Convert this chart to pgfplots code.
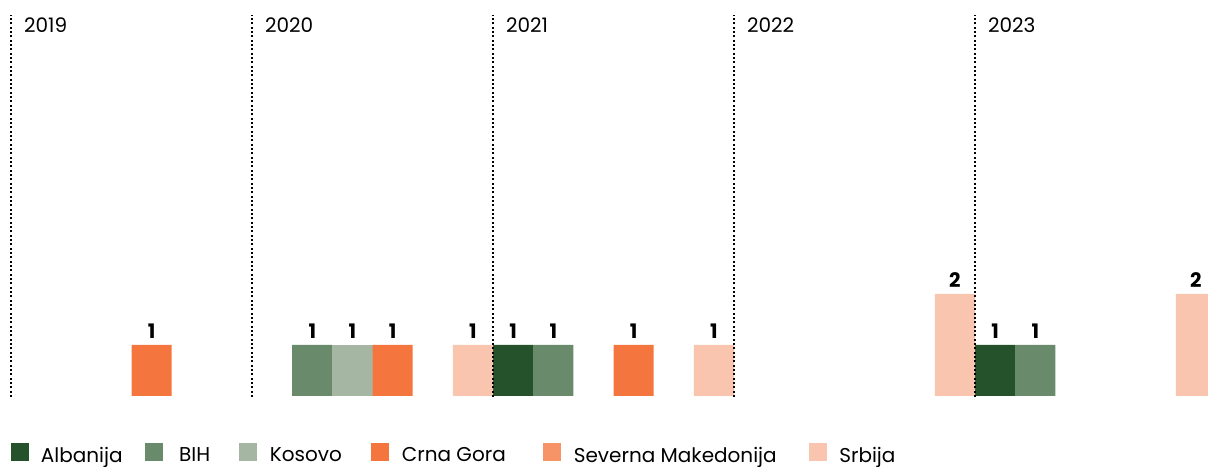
\documentclass[border=0pt]{standalone}
\usepackage{pgfplots}
\pgfplotsset{compat=1.18}
\usepackage{fontspec}
\setmainfont{Poppins}

\definecolor{albanija}{HTML}{25512B}
\definecolor{bih}{HTML}{6A8A6C}
\definecolor{kosovo}{HTML}{A5B7A3}
\definecolor{crnagora}{HTML}{F4763E}
\definecolor{sevmak}{HTML}{F79467}
\definecolor{srbija}{HTML}{F9C5AE}

\begin{document}
\begin{tikzpicture}
\begin{axis}[
    scale only axis,
    width=906pt, height=349.5pt,
    xmin=-0.274, xmax=29.8,
    ymin=-1.373, ymax=7.765,
    hide axis,
    ybar, bar width=1,
    every axis plot/.append style={bar shift=0pt, draw=none},
    /pgf/number format/assume math mode=true,
    nodes near coords,
    every node near coord/.append style={font=\bfseries\fontsize{15}{18}\selectfont,
        text=black, inner sep=0pt, anchor=south, yshift=4.5pt},
    legend columns=-1,
    legend image code/.code={\fill[#1] (0pt,-4.5pt) rectangle (13.5pt,9pt);},
    legend style={draw=none, fill=none, at={(rel axis cs:0.0091,0.0233)}, anchor=west,
        inner sep=0pt, font=\fontsize{15}{18}\selectfont,
        /tikz/column 1/.append style={column sep=6.75pt},
        /tikz/column 2/.append style={column sep=14.5pt},
        /tikz/column 3/.append style={column sep=10.5pt},
        /tikz/column 4/.append style={column sep=19.75pt},
        /tikz/column 5/.append style={column sep=7.5pt},
        /tikz/column 6/.append style={column sep=20pt},
        /tikz/column 7/.append style={column sep=7.5pt},
        /tikz/column 8/.append style={column sep=26pt},
        /tikz/column 9/.append style={column sep=7.5pt},
        /tikz/column 10/.append style={column sep=22pt},
        /tikz/column 11/.append style={column sep=7.5pt}},
]
% groups start at 0,6,12,18,24 (2019..2023); slot = country
\addplot[fill=albanija] coordinates {(12.5,1) (24.5,1)};
\addlegendentry{Albanija}
\addplot[fill=bih] coordinates {(7.5,1) (13.5,1) (25.5,1)};
\addlegendentry{BIH}
\addplot[fill=kosovo] coordinates {(8.5,1)};
\addlegendentry{Kosovo}
\addplot[fill=crnagora] coordinates {(3.5,1) (9.5,1) (15.5,1)};
\addlegendentry{Crna Gora}
\addlegendimage{fill=sevmak, draw=none}
\addlegendentry{Severna Makedonija}
\addplot[fill=srbija] coordinates {(11.5,1) (17.5,1) (23.5,2) (29.5,2)};
\addlegendentry{Srbija}

\draw[line width=1.5pt, dash pattern=on 1.5pt off 1.75pt] (axis cs:0,-0.02) -- (axis cs:0,7.47);
\draw[line width=1.5pt, dash pattern=on 1.5pt off 1.75pt] (axis cs:6,-0.02) -- (axis cs:6,7.47);
\draw[line width=1.5pt, dash pattern=on 1.5pt off 1.75pt] (axis cs:12,-0.02) -- (axis cs:12,7.47);
\draw[line width=1.5pt, dash pattern=on 1.5pt off 1.75pt] (axis cs:18,-0.02) -- (axis cs:18,7.47);
\draw[line width=1.5pt, dash pattern=on 1.5pt off 1.75pt] (axis cs:24,-0.02) -- (axis cs:24,7.47);

\node[anchor=base west, inner sep=0pt, font=\fontsize{15}{18}\selectfont] at (axis cs:0.32,7.118) {2019};
\node[anchor=base west, inner sep=0pt, font=\fontsize{15}{18}\selectfont] at (axis cs:6.32,7.118) {2020};
\node[anchor=base west, inner sep=0pt, font=\fontsize{15}{18}\selectfont] at (axis cs:12.32,7.118) {2021};
\node[anchor=base west, inner sep=0pt, font=\fontsize{15}{18}\selectfont] at (axis cs:18.32,7.118) {2022};
\node[anchor=base west, inner sep=0pt, font=\fontsize{15}{18}\selectfont] at (axis cs:24.32,7.118) {2023};
\end{axis}
\path (current axis.south west) rectangle (current axis.north east);
\end{tikzpicture}
\end{document}
